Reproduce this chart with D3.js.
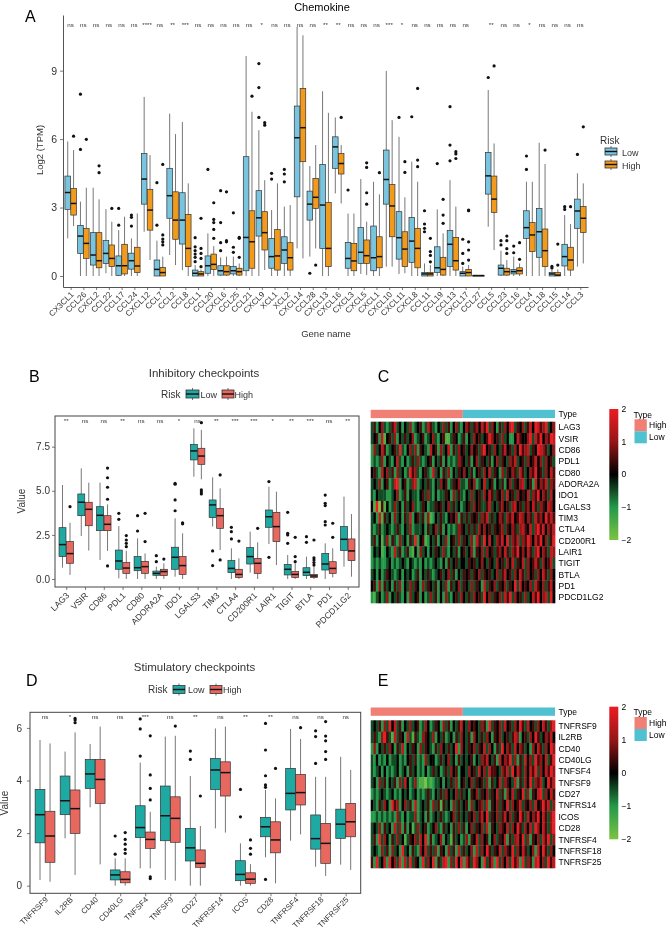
<!DOCTYPE html>
<html>
<head>
<meta charset="utf-8">
<script src="https://cdn.jsdelivr.net/npm/d3@7"></script>
<style>
  body { margin: 0; background: #fff; }
  svg { will-change: transform; }
  svg text { font-family: "Liberation Sans", Arial, Helvetica, sans-serif; }
</style>
</head>
<body>
<svg id="fig" width="668" height="933"></svg>
<script>
// ---------- panel A : chemokines ----------
const chemoGenes = ['CX3CL1','CCL26','CXCL2','CCL22','CCL17','CCL24','CXCL12','CCL7','CCL2','CCL8','CCL1','CCL20','CXCL6','CCL25','CCL21','CXCL9','XCL1','XCL2','CXCL14','CCL28','CXCL13','CXCL16','CXCL3','CXCL5','CXCL1','CXCL10','CXCL11','CXCL8','CCL11','CCL19','CCL13','CXCL17','CCL27','CCL5','CCL23','CCL16','CCL4','CCL18','CCL15','CCL14','CCL3'];
const chemoSig = ['ns','ns','ns','ns','ns','ns','****','ns','**','***','ns','ns','ns','ns','ns','*','ns','ns','ns','ns','**','**','ns','ns','ns','***','*','ns','ns','ns','ns','ns','','**','ns','ns','*','ns','ns','ns','ns'];
// [lower whisker, q1, median, q3, upper whisker]
const chemoLow = [
  [1.65,2.92,3.66,4.38,5.9],[0,0.99,1.75,2.22,3.26],[0,0.48,0.92,1.9,3.87],[0.12,0.55,0.99,1.55,2.93],
  [0,0.03,0.45,0.88,2.01],[0,0.3,0.67,1.0,1.65],[1.94,3.15,4.25,5.37,7.85],[0,0,0.29,0.7,1.55],
  [0.92,2.53,3.52,4.72,7.12],[0.26,1.4,2.45,3.65,6.75],[0,0,0.12,0.26,0.48],[0,0.12,0.45,0.88,1.87],
  [0,0.04,0.23,0.45,0.82],[0,0.09,0.23,0.41,0.85],[0,0.23,1.69,5.23,9.64],[0,1.75,2.55,3.74,6.39],
  [0,0.34,0.85,1.65,2.89],[0,0.55,1.14,1.72,3.04],[1.21,3.47,6.06,7.45,10.92],[0.85,2.45,3.15,3.72,4.82],
  [0,1.21,3.11,4.89,8.1],[3.62,4.72,5.66,6.1,6.95],[0,0.34,0.77,1.47,2.74],[0.09,0.55,1.04,2.12,4.25],
  [0,0.23,0.8,2.19,4.13],[0.41,3.15,4.23,5.52,8.99],[0.09,0.74,1.68,2.82,6.1],[0,0.6,1.53,2.57,5.01],
  [0,0,0.09,0.15,0.55],[0,0.15,0.36,1.28,2.92],[0,0.41,1.39,1.99,4.2],[0,0,0.12,0.19,0.41],
  [0.02,0.02,0.02,0.02,0.02],[2.16,3.59,4.39,5.42,8.15],[0,0.04,0.34,0.48,1.11],[0,0.09,0.19,0.29,0.85],
  [0,1.65,2.12,2.86,4.13],[0,0.82,1.94,2.96,5.84],[0,0,0.09,0.15,0.29],[0,0.44,0.85,1.39,2.67],
  [0.41,2.09,2.85,3.37,4.5]
];
const chemoHigh = [
  [2.19,2.67,3.18,3.84,5.52],[0,0.77,1.43,2.09,3.87],[0,0.36,0.67,1.9,3.36],[0,0.41,0.77,1.36,2.38],
  [0,0.09,0.45,1.39,2.6],[0,0.15,0.44,1.26,2.74],[0.7,2.01,2.89,3.8,5.3],[0,0,0.15,0.38,0.85],
  [0.48,1.61,2.45,3.69,6.22],[0,0.41,1.21,2.7,4.06],[0,0,0.09,0.19,0.29],[0,0.29,0.51,0.96,1.31],
  [0,0.04,0.19,0.45,0.85],[0,0.04,0.19,0.34,0.55],[0,0.34,1.5,2.86,7.2],[0.26,1.14,1.9,2.82,4.2],
  [0,0.26,0.88,2.04,4.06],[0,0.26,0.8,1.46,3.11],[0.77,5.01,6.5,8.22,10.55],[1.21,2.96,3.45,4.28,5.74],
  [0,0.41,1.21,3.23,7.15],[3.18,4.47,4.93,5.37,5.74],[0,0.23,0.66,1.43,2.74],[0.04,0.55,0.89,1.58,2.38],
  [0,0.36,0.85,1.72,3.58],[0.41,1.72,3.07,4.01,6.83],[0.12,0.41,1.18,1.94,3.45],[0,0.36,1.21,2.09,4.13],
  [0,0,0.09,0.15,0.48],[0,0.04,0.29,0.82,1.87],[0,0.26,0.67,1.69,3.04],[0,0,0.15,0.29,0.48],
  [0.02,0.02,0.02,0.02,0.02],[1.14,2.79,3.37,4.38,5.81],[0,0.04,0.19,0.34,0.7],[0,0.09,0.23,0.36,0.55],
  [0,1.07,1.8,2.34,4.13],[0,0.41,1.11,2.06,4.91],[0,0,0.04,0.15,0.29],[0,0.26,0.7,1.26,2.28],
  [0.55,1.91,2.53,3.04,4.06]
];
const chemoLowOut = [
  [],[5.55,7.97],[],[],[2.23,2.96],[2.19,2.57,2.67],[],[2.23,4.09],[],[],[0.63,0.82,0.96,1.11,1.28,1.68],[4.67],
  [1.11,1.46,2.34,3.74],[1.04,1.26,2.77],[],[6.95,8.26,9.31],[4.25,4.5],[4.13,4.47,4.67],[],[0.12],[],[],
  [3.77],[],[],[],[6.95],[6.98],[1.94,2.09,2.28,2.86],[4.93],[5.05,5.74,7.42],[0.55,0.99,1.61],[],[8.7],
  [1.36,1.55],[1.02,1.31],[4.67,5.26],[],[0.35,0.42],[2.92,3.04],[5.33]
];
const chemoHighOut = [
  [6.13],[5.99],[4.53,4.83],[2.96],[],[],[],[1.36,1.5,1.62,1.8,4.89],[],[],[0.41,0.77,0.99,1.21,2.53],
  [1.65,2.04,2.34,2.48,3.21],[1.5,1.55,3.69],[0.82,1.65,1.69],[7.88],[6.61,6.72],[],[],[],[0.48],[],[6.95],
  [],[3.15,3.65,4.76,4.96],[4.53],[],[4.54,5.01],[4.79,5.08,8.22],[0.62,0.9,1.07,1.65],[2.31,2.67,3.36],
  [5.15,5.35,5.45],[0.7,1.14,1.5,2.86,2.89],[],[9.21],[0.99,1.2,1.55,1.75],[0.73,1.46],[],[5.52],[0.48,1.4],
  [3.04],[6.54]
];
const chemoTicks = [0, 3, 6, 9];

// ---------- panel B : inhibitory checkpoints ----------
const inhibGenes = ['LAG3','VSIR','CD86','PDL1','CD80','ADORA2A','IDO1','LGALS3','TIM3','CTLA4','CD200R1','LAIR1','TIGIT','BTLA','PD1','PDCD1LG2'];
const inhibSig = ['**','ns','ns','**','ns','ns','*','ns','**','***','***','*','**','***','ns','**'];
const inhibLow = [
  [0.64,1.27,1.95,2.91,5.33],[2.44,3.59,4.35,4.82,6.27],[1.08,2.74,3.61,4.1,5.46],[0.04,0.55,1.02,1.64,3.0],
  [0,0.47,0.64,1.27,2.3],[0,0.21,0.32,0.45,0.7],[0.13,0.55,1.23,1.8,3.44],[5.8,6.75,7.26,7.63,8.54],
  [2.97,3.48,4.2,4.48,5.76],[0,0.36,0.6,1.04,1.74],[0.36,0.85,1.27,1.78,2.68],[1.98,2.93,3.53,3.91,5.23],
  [0,0.23,0.55,0.83,1.36],[0,0.19,0.38,0.64,1.27],[0,0.51,0.85,1.45,2.02],[0.7,1.61,2.25,2.97,4.67]
];
const inhibHigh = [
  [0.23,0.89,1.44,2.12,3.19],[1.61,3.02,3.95,4.35,5.46],[1.59,2.74,3.1,3.59,4.23],[0,0.32,0.62,0.93,1.6],
  [0,0.32,0.7,1.0,1.45],[0,0.19,0.42,0.55,0.89],[0,0.26,0.76,1.27,2.59],[5.65,6.5,6.97,7.41,8.45],
  [1.64,2.87,3.59,4.0,5.14],[0,0.09,0.26,0.55,1.17],[0,0.32,0.89,1.17,2.08],[0.79,2.12,2.97,3.78,4.95],
  [0,0.09,0.26,0.42,0.89],[0,0.08,0.17,0.26,0.7],[0.09,0.32,0.6,0.98,1.74],[0.13,1.04,1.59,2.27,3.68]
];
const inhibLowOut = [
  [],[],[],[3.38,3.72],[2.72,3.59],[0.98,1.32],[3.87,4.48,5.37,5.42],[],[0.76,1.59],[2.27,2.68,2.93],[],
  [1.23,5.52],[2.02,2.5,2.59,3.78],[2.08,2.4],[3.06,3.25,4.16,4.29,4.76],[]
];
const inhibHighOut = [
  [4.1],[],[0.74,4.52,5.2,5.74,6.29],[1.83,2.02,2.21,2.46],[2.12,3.72],[1.13],[3.13,3.18],[4.82,4.93,5.05,8.86],
  [1.08,5.9],[2.15],[2.87],[],[0.98,1.27,2.36],[0.79,0.93,1.08,1.2,2.21],[2.36,3.16],[]
];
const inhibTicks = [0, 2.5, 5, 7.5];

// ---------- panel D : stimulatory checkpoints ----------
const stimGenes = ['TNFRSF9','IL2RB','CD40','CD40LG','TNFSF4','TNFSF9','CD27','TNFRSF14','ICOS','CD28','TNFRSF4','TNFRSF18','TNFRSF25'];
const stimSig = ['ns','*','ns','ns','***','ns','**','ns','**','**','ns','ns','ns'];
const stimLow = [
  [0.22,1.63,2.7,3.66,5.54],[1.8,2.7,3.23,4.17,5.1],[2.98,3.7,4.25,4.8,5.39],[0,0.22,0.41,0.6,1.04],
  [0.66,1.83,2.21,3.04,4.68],[0.22,1.71,2.66,3.79,5.67],[0,0.94,1.44,2.18,4.17],[2.18,3.66,4.4,4.84,5.98],
  [0,0.19,0.43,0.95,1.61],[1.08,1.86,2.24,2.6,3.64],[1.71,2.88,3.51,4.46,5.96],[0.72,1.39,1.79,2.69,4.14],
  [0.8,1.8,2.34,2.91,4.9]
];
const stimHigh = [
  [0.15,0.89,1.89,2.83,5.41],[0.41,1.99,2.93,3.64,5.83],[0.81,3.13,4.04,4.8,6.05],[0,0.11,0.24,0.53,1.04],
  [0.66,1.42,1.76,2.04,2.81],[0.19,1.65,2.56,3.38,5.7],[0,0.7,0.85,1.36,2.27],[2.02,3.41,4.3,4.71,6.05],
  [0,0.09,0.25,0.49,0.82],[0.09,1.25,1.74,2.43,3.32],[1.95,3.07,3.54,4.23,5.58],[0.37,0.85,1.61,2.37,4.14],
  [0.6,1.86,2.43,3.13,4.4]
];
const stimLowOut = [
  [],[],[],[1.2,1.89],[4.93,5.96,6.34],[],[4.8,5.12],[],[2.62,3.66],[0.24,3.74,3.83,4.18,5.16,6.17],[],
  [4.65,5.67,5.89],[]
];
const stimHighOut = [
  [],[6.2,6.3,6.36],[],[1.23,1.38,1.58,1.76,2.02],[0.27,0.34,3.26,3.7,4.21,5.7],[6.07],[3.41],[],
  [1.2,1.42,1.74],[4.46],[6.01],[4.8,5.1,5.51,5.69,6.24],[]
];
const stimTicks = [0, 2, 4, 6];

// ---------- heatmaps (C, E): z-scores, digit d -> (d-4)/2 ; 36 High then 36 Low samples ----------
const heatGroups = ['High', 'Low'];
const heatGroupSizes = [36, 36];
const inhibHeatRows = ['LAG3','VSIR','CD86','PDL1','CD80','ADORA2A','IDO1','LGALS3','TIM3','CTLA4','CD200R1','LAIR1','TIGIT','BTLA','PD1','PDCD1LG2'];
const inhibHeat = [
  '352463235734 243623452375 324363524632 465356475836 425364783546 357487568346',
  '345271453624 353462345234 632451135423 524364534586 453634224754 468375846587',
  '263475234538 324636254327 452634725364 534645368453 643574536485 673548765346',
  '232362432473 242353632345 243524232365 435246354352 463543657345 364574636453',
  '453274635263 423856324532 734253624354 643524536473 542635465375 346584536475',
  '343624523782 452367234353 243645235463 325462347345 243524635467 345274657365',
  '324333223462 352433245363 242335426353 243634536475 354637453645 473658465374',
  '418051423634 253463235423 354534635342 345364533573 435645367453 564753654764',
  '342715342634 253724535261 243532454625 353545365735 346536574576 465375648575',
  '323523432353 243623334253 463524232365 435353646453 545635465367 547368574657',
  '352413625326 342538245124 352436245363 543627538474 365748365736 586475846358',
  '243412432735 235214263424 354363243524 534625463645 356475365846 475368465376',
  '232322342323 432432324232 343242534534 435453464354 364536473547 364575364573',
  '342423543234 243423524353 234534635243 545354635453 463574536475 364536475364',
  '452625342536 243635426354 352436253463 543635427354 635463548374 546375463574',
  '213423624353 242634524236 352426324536 435364538463 546375836453 634758467384'
];
const stimHeatRows = ['TNFRSF9','IL2RB','CD40','CD40LG','TNFSF4','TNFSF9','CD27','TNFRS14','ICOS','CD28','TNFRSF4','TNFRSF18','TNFRSF25'];
const stimHeat = [
  '343526384735 243634523642 354263524357 436454365283 546374536485 374536475368',
  '353268531735 427315326543 624352342536 435264353642 546345357624 536485346574',
  '262435364253 724354263543 253643534826 435463547364 253846537465 342647536486',
  '324232423342 324535232634 423534634253 434524365743 527465836253 746385647358',
  '323424232342 342534232423 534235364524 436453746375 543657384753 647583647586',
  '342635243526 374236211021 233424353624 534635453625 347365437253 648365734857',
  '232343234232 434234232353 243536434635 342546354635 473526473548 362547836475',
  '432536428562 463527234352 635153426353 452634563725 463548364573 546374585736',
  '223232323263 242336234252 343532346353 435463574835 463574635485 374658475368',
  '343625342736 252413634523 463253425363 524635463725 436547364853 647386475368',
  '352836425363 413546374825 234624315342 362547364524 635472536748 362546375836',
  '343263526342 834253264735 362542635273 534627364853 547365483647 534627485364',
  '528347284638 273835428364 825378263848 275386428357 283647385728 365278463857'
];
const heatTicks = [2, 1, 0, -1, -2];

// ---------- drawing ----------
const svg = d3.select('#fig');
const textCol = '#333';

function boxKey(g, x, y, w, h, fill) {
  g.append('line').attr('x1', x + w / 2).attr('x2', x + w / 2).attr('y1', y - 2).attr('y2', y + h + 2)
    .attr('stroke', '#333').attr('stroke-width', 0.7);
  g.append('rect').attr('x', x).attr('y', y).attr('width', w).attr('height', h)
    .attr('fill', fill).attr('stroke', '#333').attr('stroke-width', 0.8);
  g.append('line').attr('x1', x).attr('x2', x + w).attr('y1', y + h / 2).attr('y2', y + h / 2)
    .attr('stroke', '#111').attr('stroke-width', 1.4);
}

function boxPanel(o) {
  const g = svg.append('g');
  const x = d3.scalePoint().domain(o.genes).range([o.left, o.right]).padding(0.6);
  const step = x.step();
  const y = d3.scaleLinear().domain(o.yDomain).range([o.bottom, o.top]);
  const bw = step * o.boxFrac, off = step * o.offFrac;

  // axes
  const ax = g.append('g').attr('transform', `translate(${o.left},0)`)
    .call(d3.axisLeft(y).tickValues(o.ticks).tickSize(3).tickSizeOuter(0).tickFormat(o.fmt));
  const bx = g.append('g').attr('transform', `translate(0,${o.bottom})`)
    .call(d3.axisBottom(x).tickSize(3).tickSizeOuter(0).tickFormat(''));
  [ax, bx].forEach(a => {
    a.selectAll('line').attr('stroke', '#444').attr('stroke-width', 0.7);
    a.select('.domain').attr('stroke', '#555').attr('stroke-width', o.border ? 0 : 1);
  });
  ax.selectAll('text').attr('fill', textCol).style('font-size', o.tickFont + 'px').attr('x', -o.labGap);
  if (o.border) {
    g.append('rect').attr('x', o.left).attr('y', o.top).attr('width', o.right - o.left)
      .attr('height', o.bottom - o.top).attr('fill', 'none').attr('stroke', '#444').attr('stroke-width', 1);
  }
  g.append('g').selectAll('text').data(o.genes).join('text')
    .attr('transform', d => `translate(${x(d) + 1.5},${o.bottom + o.labDrop}) rotate(-45)`)
    .attr('text-anchor', 'end').attr('dy', '0.35em')
    .style('font-size', o.xFont + 'px').attr('fill', textCol).text(d => d);

  // significance labels
  g.append('g').selectAll('text').data(o.sig).join('text')
    .attr('x', (d, i) => x(o.genes[i])).attr('y', o.sigY)
    .attr('text-anchor', 'middle').style('font-size', '6.2px').attr('fill', '#333').text(d => d);

  const groups = [
    { stats: o.low, out: o.lowOut, fill: o.colors[0], dx: -off },
    { stats: o.high, out: o.highOut, fill: o.colors[1], dx: off }
  ];
  groups.forEach(gr => {
    const b = g.append('g').selectAll('g').data(o.genes).join('g')
      .attr('transform', d => `translate(${x(d) + gr.dx},0)`);
    b.append('line').attr('y1', (d, i) => y(gr.stats[i][0])).attr('y2', (d, i) => y(gr.stats[i][4]))
      .attr('stroke', '#555').attr('stroke-width', 0.8);
    b.append('rect').attr('x', -bw / 2).attr('width', bw)
      .attr('y', (d, i) => y(gr.stats[i][3]))
      .attr('height', (d, i) => Math.max(0.6, y(gr.stats[i][1]) - y(gr.stats[i][3])))
      .attr('fill', gr.fill).attr('stroke', '#333').attr('stroke-width', 0.7);
    b.append('line').attr('x1', -bw / 2).attr('x2', bw / 2)
      .attr('y1', (d, i) => y(gr.stats[i][2])).attr('y2', (d, i) => y(gr.stats[i][2]))
      .attr('stroke', '#111').attr('stroke-width', 1.5);
    b.selectAll('circle').data((d, i) => gr.out[i]).join('circle')
      .attr('cx', 0).attr('cy', v => y(v)).attr('r', 1.6).attr('fill', '#111');
  });
  return g;
}

// ----- panel A -----
const gA = boxPanel({
  genes: chemoGenes, sig: chemoSig, low: chemoLow, high: chemoHigh, lowOut: chemoLowOut, highOut: chemoHighOut,
  left: 63, right: 588, top: 15, bottom: 287, yDomain: [-0.482, 11.44], ticks: chemoTicks, fmt: d3.format('d'),
  boxFrac: 0.44, offFrac: 0.23, colors: ['#79c4df', '#f19a1c'], border: false,
  tickFont: 10.5, labGap: 6, xFont: 8.2, labDrop: 6, sigY: 27
});
gA.append('text').attr('x', 25).attr('y', 22).style('font-size', '16px').text('A');
gA.append('text').attr('x', 322).attr('y', 10.5).attr('text-anchor', 'middle').style('font-size', '11px').text('Chemokine');
gA.append('text').attr('transform', 'translate(43,150) rotate(-90)').attr('text-anchor', 'middle')
  .style('font-size', '9.5px').attr('fill', textCol).text('Log2 (TPM)');
gA.append('text').attr('x', 326).attr('y', 337).attr('text-anchor', 'middle')
  .style('font-size', '9.5px').attr('fill', textCol).text('Gene name');
gA.append('text').attr('x', 600).attr('y', 144).style('font-size', '10px').attr('fill', textCol).text('Risk');
boxKey(gA, 605, 148, 12, 7, '#79c4df');
boxKey(gA, 605, 161, 12, 7, '#f19a1c');
gA.append('text').attr('x', 622).attr('y', 156).style('font-size', '9px').attr('fill', textCol).text('Low');
gA.append('text').attr('x', 622).attr('y', 168.5).style('font-size', '9px').attr('fill', textCol).text('High');

// ----- panel B -----
const bdCols = ['#1fa9a3', '#e8685f'];
const gB = boxPanel({
  genes: inhibGenes, sig: inhibSig, low: inhibLow, high: inhibHigh, lowOut: inhibLowOut, highOut: inhibHighOut,
  left: 55, right: 359, top: 416, bottom: 587, yDomain: [-0.454, 9.24], ticks: inhibTicks, fmt: d3.format('.1f'),
  boxFrac: 0.37, offFrac: 0.2, colors: bdCols, border: true,
  tickFont: 10, labGap: 5, xFont: 8.6, labDrop: 7, sigY: 423
});
gB.append('text').attr('x', 29).attr('y', 382).style('font-size', '16px').text('B');
gB.append('text').attr('x', 204).attr('y', 377).attr('text-anchor', 'middle').style('font-size', '11.5px').attr('fill', textCol).text('Inhibitory checkpoints');
gB.append('text').attr('transform', 'translate(25,501) rotate(-90)').attr('text-anchor', 'middle')
  .style('font-size', '10px').attr('fill', textCol).text('Value');
gB.append('text').attr('x', 161).attr('y', 397.5).style('font-size', '10px').attr('fill', textCol).text('Risk');
boxKey(gB, 186, 390, 13, 8, bdCols[0]);
boxKey(gB, 222, 390, 12, 8, bdCols[1]);
gB.append('text').attr('x', 200.5).attr('y', 397.5).style('font-size', '9px').attr('fill', textCol).text('Low');
gB.append('text').attr('x', 234.5).attr('y', 397.5).style('font-size', '9px').attr('fill', textCol).text('High');

// ----- panel D -----
const gD = boxPanel({
  genes: stimGenes, sig: stimSig, low: stimLow, high: stimHigh, lowOut: stimLowOut, highOut: stimHighOut,
  left: 30, right: 360.7, top: 712.3, bottom: 893.3, yDomain: [-0.289, 6.593], ticks: stimTicks, fmt: d3.format('d'),
  boxFrac: 0.39, offFrac: 0.2, colors: bdCols, border: true,
  tickFont: 10, labGap: 8, xFont: 7.9, labDrop: 5, sigY: 719
});
gD.append('text').attr('x', 26).attr('y', 686).style('font-size', '16px').text('D');
gD.append('text').attr('x', 194.5).attr('y', 671).attr('text-anchor', 'middle').style('font-size', '11.5px').attr('fill', textCol).text('Stimulatory checkpoints');
gD.append('text').attr('transform', 'translate(8,803) rotate(-90)').attr('text-anchor', 'middle')
  .style('font-size', '10px').attr('fill', textCol).text('Value');
gD.append('text').attr('x', 148).attr('y', 693).style('font-size', '10px').attr('fill', textCol).text('Risk');
boxKey(gD, 173, 685.5, 12, 8, bdCols[0]);
boxKey(gD, 210, 685.5, 12, 8, bdCols[1]);
gD.append('text').attr('x', 188).attr('y', 693).style('font-size', '9px').attr('fill', textCol).text('Low');
gD.append('text').attr('x', 223).attr('y', 693).style('font-size', '9px').attr('fill', textCol).text('High');

// ----- heatmaps -----
const heatColor = d3.scaleLinear().domain([-2, -1, 0, 1, 2])
  .range(['#7cc242', '#24994a', '#000000', '#951616', '#ec1c24']);
const typeColors = { High: '#f07f76', Low: '#4fc1d0' };
const defs = svg.append('defs');
const grad = defs.append('linearGradient').attr('id', 'hgrad').attr('x1', 0).attr('x2', 0).attr('y1', 0).attr('y2', 1);
heatTicks.forEach((v, i) => grad.append('stop').attr('offset', (i / 4 * 100) + '%').attr('stop-color', heatColor(v)));

function heatPanel(o) {
  const g = svg.append('g');
  const cells = o.data.map(s => s.replace(/ /g, '').split('').map(c => (+c - 4) / 2));
  const nCol = d3.max(cells, r => r.length);
  const x = d3.scaleBand().domain(d3.range(nCol)).range([o.left, o.right]);
  const y = d3.scaleBand().domain(o.rows).range([o.top, o.top + o.rowH * o.rows.length]);
  const cw = x.bandwidth();

  cells.forEach((row, ri) => {
    g.append('g').selectAll('rect').data(row).join('rect')
      .attr('x', (d, ci) => x(ci)).attr('y', y(o.rows[ri]))
      .attr('width', cw + 0.35).attr('height', y.bandwidth() + 0.3)
      .attr('fill', d => heatColor(d));
  });
  // annotation bar
  let start = 0;
  heatGroups.forEach((grp, i) => {
    const n = heatGroupSizes[i];
    g.append('rect').attr('x', x(start)).attr('y', o.barTop).attr('width', cw * n).attr('height', 8.3)
      .attr('fill', typeColors[grp]);
    start += n;
  });
  g.append('text').attr('x', o.right + 3.5).attr('y', o.barTop + 4.5).attr('dy', '0.35em')
    .style('font-size', '8.5px').text('Type');
  g.append('g').selectAll('text').data(o.rows).join('text')
    .attr('x', o.right + 3.5).attr('y', d => y(d) + y.bandwidth() / 2).attr('dy', '0.35em')
    .style('font-size', '8.5px').text(d => d);

  // colour key
  const ly = d3.scaleLinear().domain([2, -2]).range([o.keyTop, o.keyBottom]);
  g.append('rect').attr('x', 609.3).attr('y', o.keyTop).attr('width', 9).attr('height', o.keyBottom - o.keyTop)
    .attr('fill', 'url(#hgrad)');
  g.append('g').selectAll('text').data(heatTicks).join('text')
    .attr('x', 621.5).attr('y', d => ly(d)).attr('dy', '0.35em').style('font-size', '8.5px')
    .text(d => d < 0 ? '\u2212' + Math.abs(d) : d);
  // type legend
  g.append('text').attr('x', 633.5).attr('y', o.barTop + 5).attr('dy', '0.35em').style('font-size', '8.5px').text('Type');
  heatGroups.forEach((grp, i) => {
    const ky = o.barTop + 9.5 + i * 12;
    g.append('rect').attr('x', 634.5).attr('y', ky).attr('width', 12.3).attr('height', 12)
      .attr('fill', typeColors[grp]);
    g.append('text').attr('x', 649).attr('y', ky + 6).attr('dy', '0.35em').style('font-size', '8.5px').text(grp);
  });
  g.append('text').attr('x', o.left + 7).attr('y', o.labelY).style('font-size', '16px').text(o.label);
  return g;
}

heatPanel({ data: inhibHeat, rows: inhibHeatRows, left: 370.7, right: 555, top: 421.7, rowH: 11.33,
  barTop: 409.8, keyTop: 409, keyBottom: 540, label: 'C', labelY: 382 });
heatPanel({ data: stimHeat, rows: stimHeatRows, left: 370.7, right: 555, top: 720.3, rowH: 11.36,
  barTop: 707.5, keyTop: 706.7, keyBottom: 839.3, label: 'E', labelY: 686 });
</script>
</body>
</html>
